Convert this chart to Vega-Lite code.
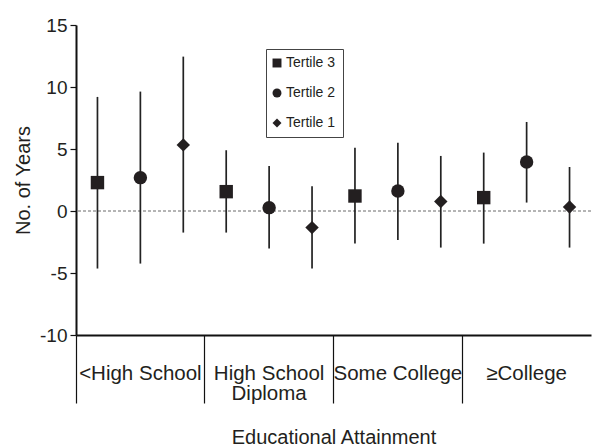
{
  "$schema": "https://vega.github.io/schema/vega-lite/v6.json",
  "width": 515,
  "height": 310,
  "autosize": {"type": "none"},
  "padding": {"left": 76, "top": 25, "right": 2, "bottom": 112},
  "background": "white",
  "config": {
    "font": "Liberation Sans",
    "view": {"stroke": null},
    "axis": {"labelColor": "#231f20", "titleColor": "#231f20", "titleFontWeight": "normal", "domainColor": "#111111", "tickColor": "#111111", "grid": false}
  },
  "data": {
    "values": [
      {"edu": "<High School", "tertile": "Tertile 3", "est": 2.29, "lo": -4.64, "hi": 9.2},
      {"edu": "<High School", "tertile": "Tertile 2", "est": 2.69, "lo": -4.24, "hi": 9.63},
      {"edu": "<High School", "tertile": "Tertile 1", "est": 5.33, "lo": -1.74, "hi": 12.45},
      {"edu": "High School Diploma", "tertile": "Tertile 3", "est": 1.56, "lo": -1.74, "hi": 4.9},
      {"edu": "High School Diploma", "tertile": "Tertile 2", "est": 0.27, "lo": -3.03, "hi": 3.63},
      {"edu": "High School Diploma", "tertile": "Tertile 1", "est": -1.34, "lo": -4.64, "hi": 2.0},
      {"edu": "Some College", "tertile": "Tertile 3", "est": 1.21, "lo": -2.63, "hi": 5.11},
      {"edu": "Some College", "tertile": "Tertile 2", "est": 1.61, "lo": -2.34, "hi": 5.51},
      {"edu": "Some College", "tertile": "Tertile 1", "est": 0.76, "lo": -2.95, "hi": 4.44},
      {"edu": "≥College", "tertile": "Tertile 3", "est": 1.08, "lo": -2.63, "hi": 4.71},
      {"edu": "≥College", "tertile": "Tertile 2", "est": 3.95, "lo": 0.68, "hi": 7.18},
      {"edu": "≥College", "tertile": "Tertile 1", "est": 0.32, "lo": -2.95, "hi": 3.55}
    ]
  },
  "layer": [
    {
      "data": {"values": [{}]},
      "mark": {"type": "rule", "strokeDash": [3, 2], "stroke": "#444444", "strokeWidth": 0.8},
      "encoding": {
        "y": {"datum": 0, "type": "quantitative", "scale": {"domain": [-10, 15], "nice": false, "zero": false},
          "axis": {"title": "No. of Years", "values": [-10, -5, 0, 5, 10, 15], "labelExpr": "'' + datum.value", "tickSize": 6, "tickWidth": 1.2, "labelFontSize": 19, "titleFontSize": 20, "labelPadding": 3, "titlePadding": 6, "domainWidth": 2}}
      }
    },
    {
      "mark": {"type": "rule", "stroke": "#222222", "strokeWidth": 1.7},
      "encoding": {
        "x": {"field": "edu", "type": "nominal", "sort": ["<High School", "High School Diploma", "Some College", "≥College"], "scale": {"paddingInner": 0, "paddingOuter": 0},
          "axis": {"title": "Educational Attainment", "bandPosition": 0, "tickSize": 68, "tickWidth": 1.2, "labelPadding": -40, "labelAlign": "center", "labelBaseline": "top", "labelFontSize": 20.5, "labelLineHeight": 20, "labelAngle": 0, "labelOverlap": false, "labelLimit": 300, "labelExpr": "datum.label == 'High School Diploma' ? ['High School', 'Diploma'] : datum.label", "titleFontSize": 20, "titlePadding": 24, "domainWidth": 2}},
        "xOffset": {"field": "tertile", "type": "nominal", "sort": ["Tertile 3", "Tertile 2", "Tertile 1"], "scale": {"paddingInner": 0, "paddingOuter": 0}},
        "y": {"field": "lo", "type": "quantitative", "scale": {"domain": [-10, 15], "nice": false, "zero": false},
          "axis": {"title": "No. of Years", "values": [-10, -5, 0, 5, 10, 15], "labelExpr": "'' + datum.value", "tickSize": 6, "tickWidth": 1.2, "labelFontSize": 19, "titleFontSize": 20, "labelPadding": 3, "titlePadding": 6, "domainWidth": 2}},
        "y2": {"field": "hi"}
      }
    },
    {
      "mark": {"type": "point", "filled": true, "opacity": 1, "color": "#231f20", "size": 180},
      "encoding": {
        "x": {"field": "edu", "type": "nominal", "sort": ["<High School", "High School Diploma", "Some College", "≥College"], "scale": {"paddingInner": 0, "paddingOuter": 0},
          "axis": {"title": "Educational Attainment", "bandPosition": 0, "tickSize": 68, "tickWidth": 1.2, "labelPadding": -40, "labelAlign": "center", "labelBaseline": "top", "labelFontSize": 20.5, "labelLineHeight": 20, "labelAngle": 0, "labelOverlap": false, "labelLimit": 300, "labelExpr": "datum.label == 'High School Diploma' ? ['High School', 'Diploma'] : datum.label", "titleFontSize": 20, "titlePadding": 24, "domainWidth": 2}},
        "xOffset": {"field": "tertile", "type": "nominal", "sort": ["Tertile 3", "Tertile 2", "Tertile 1"], "scale": {"paddingInner": 0, "paddingOuter": 0}},
        "y": {"field": "est", "type": "quantitative", "scale": {"domain": [-10, 15], "nice": false, "zero": false},
          "axis": {"title": "No. of Years", "values": [-10, -5, 0, 5, 10, 15], "labelExpr": "'' + datum.value", "tickSize": 6, "tickWidth": 1.2, "labelFontSize": 19, "titleFontSize": 20, "labelPadding": 3, "titlePadding": 6, "domainWidth": 2}},
        "shape": {"field": "tertile", "type": "nominal", "scale": {"domain": ["Tertile 3", "Tertile 2", "Tertile 1"], "range": ["square", "circle", "diamond"]},
          "legend": {"title": null, "orient": "none", "legendX": 190, "legendY": 24, "strokeColor": "#444444", "fillColor": "white", "padding": 7, "symbolOffset": -3, "symbolSize": 80, "labelFontSize": 14, "labelColor": "#231f20", "rowPadding": 16, "labelOffset": 2, "symbolFillColor": "#231f20", "symbolStrokeColor": "#231f20", "symbolStrokeWidth": 0}}
      }
    }
  ]
}
